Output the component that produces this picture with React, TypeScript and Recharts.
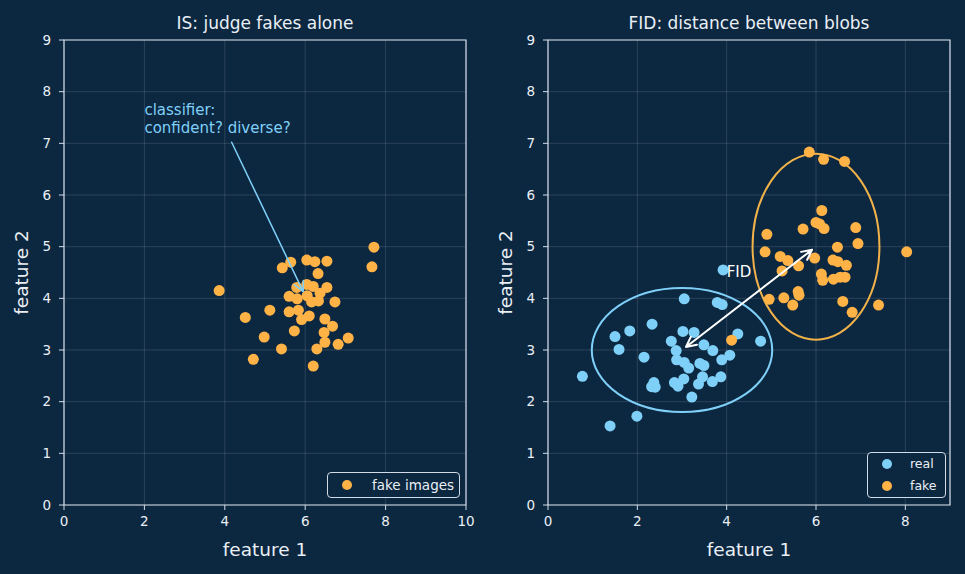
import React from 'react';
import {
  ScatterChart,
  Scatter,
  XAxis,
  YAxis,
  CartesianGrid,
  Legend,
  ReferenceArea,
  ReferenceLine,
  ReferenceDot,
} from 'recharts';

// left panel: generated samples only
const fakeImages: [number, number][] = [
  [7.71, 4.99], [7.66, 4.61], [3.86, 4.15], [5.64, 4.7], [5.43, 4.59], [6.04, 4.74],
  [6.24, 4.71], [6.54, 4.72], [6.32, 4.48], [5.79, 4.21], [6.04, 4.27], [6.2, 4.23],
  [6.54, 4.21], [5.6, 4.04], [5.8, 3.99], [6.05, 4.05], [6.16, 3.93], [6.33, 3.95],
  [6.37, 4.1], [6.74, 3.93], [5.12, 3.77], [4.51, 3.63], [5.6, 3.74], [5.83, 3.77],
  [5.91, 3.59], [6.1, 3.66], [6.49, 3.6], [6.68, 3.46], [6.47, 3.34], [5.73, 3.37],
  [4.98, 3.25], [7.07, 3.23], [6.49, 3.15], [6.82, 3.11], [5.41, 3.02], [6.29, 3.02],
  [4.71, 2.82], [6.2, 2.69],
];

// right panel: real vs fake blobs
const realPts: [number, number][] = [
  [3.05, 3.99], [3.79, 3.92], [3.9, 3.88], [2.33, 3.5], [1.83, 3.37], [1.5, 3.26],
  [1.59, 3.01], [3.02, 3.36], [3.27, 3.34], [2.76, 3.17], [4.25, 3.31], [4.76, 3.17],
  [3.49, 3.1], [3.69, 2.99], [2.87, 2.99], [2.15, 2.86], [2.88, 2.81], [3.05, 2.76],
  [3.15, 2.65], [3.4, 2.74], [3.49, 2.7], [3.89, 2.81], [4.07, 2.9], [3.46, 2.48],
  [3.87, 2.48], [3.68, 2.39], [3.04, 2.44], [2.83, 2.37], [2.91, 2.3], [3.37, 2.34],
  [2.37, 2.37], [2.32, 2.29], [2.4, 2.28], [3.22, 2.09], [1.99, 1.72], [1.39, 1.53],
  [0.77, 2.49], [3.92, 4.55],
];

const fakePts: [number, number][] = [
  [5.85, 6.83], [6.17, 6.69], [6.64, 6.65], [6.13, 5.7], [6.0, 5.47], [6.08, 5.44],
  [6.18, 5.35], [5.71, 5.34], [6.89, 5.37], [4.9, 5.24], [6.94, 5.06], [6.48, 4.99],
  [4.86, 4.9], [8.03, 4.9], [5.2, 4.81], [5.37, 4.73], [5.97, 4.78], [5.61, 4.63],
  [6.38, 4.74], [6.49, 4.71], [6.68, 4.64], [5.24, 4.53], [6.12, 4.47], [6.15, 4.35],
  [6.39, 4.37], [6.54, 4.41], [6.65, 4.41], [4.95, 3.98], [5.28, 4.01], [5.6, 4.13],
  [5.62, 4.06], [5.48, 3.87], [6.6, 3.94], [6.81, 3.73], [7.4, 3.87], [4.11, 3.19],
];

// blob outlines: center + semi axes
const realBlob = { cx: 3, cy: 3, rx: 2.02, ry: 1.2 };
const fakeBlob = { cx: 6, cy: 5, rx: 1.42, ry: 1.8 };

const leftXTicks = [0, 2, 4, 6, 8, 10];
const rightXTicks = [0, 2, 4, 6, 8];
const yTicks = [0, 1, 2, 3, 4, 5, 6, 7, 8, 9];
const legendOrder = ['fake images', 'real', 'fake'];

const BG = '#0c2740';
const ORANGE = '#ffb347';
const BLUE = '#7fd0f8';
const AXIS = '#d3dde8';
const TEXT = '#e9eff5';
const FONT = '"DejaVu Sans", sans-serif';

const toXY = (pts: [number, number][]) => pts.map(([x, y]) => ({ x, y }));

const dot = (color: string) => (p: any) => <circle cx={p.cx} cy={p.cy} r={5.5} fill={color} />;

const ellipseShape = (color: string) => (p: any) => (
  <ellipse
    cx={p.x + p.width / 2}
    cy={p.y + p.height / 2}
    rx={p.width / 2}
    ry={p.height / 2}
    fill="none"
    stroke={color}
    strokeWidth={2}
  />
);

// open chevron arrow(s) drawn between the scaled segment ends
const arrowShape = (color: string, width: number, both: boolean, shrink: number) => (p: any) => {
  const { x1, y1, x2, y2 } = p;
  const dx = x2 - x1;
  const dy = y2 - y1;
  const len = Math.sqrt(dx * dx + dy * dy) || 1;
  const ux = dx / len;
  const uy = dy / len;
  const sx = x1 + ux * (both ? shrink : 0);
  const sy = y1 + uy * (both ? shrink : 0);
  const ex = x2 - ux * shrink;
  const ey = y2 - uy * shrink;
  const hl = 10;
  const hw = 5;
  const head = (tx: number, ty: number, dirx: number, diry: number) => {
    const bx = tx - dirx * hl;
    const by = ty - diry * hl;
    return `M${bx - diry * hw},${by + dirx * hw} L${tx},${ty} L${bx + diry * hw},${by - dirx * hw}`;
  };
  let d = `M${sx},${sy} L${ex},${ey} ` + head(ex, ey, ux, uy);
  if (both) d += ' ' + head(sx, sy, -ux, -uy);
  return <path d={d} fill="none" stroke={color} strokeWidth={width} strokeLinecap="round" strokeLinejoin="round" />;
};

function YLabel({ viewBox, value }: any) {
  const x = viewBox.x + viewBox.width - 36;
  const y = viewBox.y + viewBox.height / 2;
  return (
    <text x={x} y={y} transform={`rotate(-90 ${x} ${y})`} textAnchor="middle" fill={TEXT} fontSize={18.5} fontFamily={FONT}>
      {value}
    </text>
  );
}

function XLabel({ viewBox, value }: any) {
  return (
    <text x={viewBox.x + viewBox.width / 2} y={viewBox.y + 51} textAnchor="middle" fill={TEXT} fontSize={18.5} fontFamily={FONT}>
      {value}
    </text>
  );
}

function LegendBox({ payload, width, textLeft, fontSize, padTop }: any) {
  const items = [...(payload || [])].sort(
    (a: any, b: any) => legendOrder.indexOf(a.value) - legendOrder.indexOf(b.value)
  );
  return (
    <div
      style={{
        width,
        boxSizing: 'border-box',
        border: `1.2px solid ${AXIS}`,
        borderRadius: 4,
        background: BG,
        paddingTop: padTop,
        paddingBottom: padTop,
        fontFamily: FONT,
        fontSize,
        color: TEXT,
      }}
    >
      {items.map((e: any) => (
        <div key={e.value} style={{ position: 'relative', height: 22, lineHeight: '22px' }}>
          <svg width={12} height={12} style={{ position: 'absolute', left: 13, top: 5 }}>
            <circle cx={6} cy={6} r={5} fill={e.color} />
          </svg>
          <span style={{ position: 'absolute', left: textLeft }}>{e.value}</span>
        </div>
      ))}
    </div>
  );
}

const tickStyle = { fill: TEXT, fontSize: 13.5, fontFamily: FONT };

function Title({ left, width, text }: { left: number; width: number; text: string }) {
  return (
    <div
      style={{
        position: 'absolute',
        left,
        width,
        top: 14.6,
        textAlign: 'center',
        fontSize: 17,
        lineHeight: '17px',
        color: TEXT,
        fontFamily: FONT,
      }}
    >
      {text}
    </div>
  );
}

export default function App() {
  return (
    <div style={{ position: 'absolute', left: 0, top: 0, width: 965, height: 574, background: BG, overflow: 'hidden' }}>
      <Title left={64} width={402} text="IS: judge fakes alone" />
      <Title left={548} width={402} text="FID: distance between blobs" />

      {/* left panel */}
      <div style={{ position: 'absolute', left: 0, top: 0 }}>
        <ScatterChart width={482} height={574} margin={{ top: 40, right: 16, bottom: 0, left: 0 }}>
          <CartesianGrid stroke="#ffffff" strokeOpacity={0.17} strokeWidth={0.8} />
          <XAxis
            type="number"
            dataKey="x"
            domain={[0, 10]}
            ticks={leftXTicks}
            height={69}
            tick={tickStyle}
            tickSize={5}
            tickMargin={6}
            axisLine={false}
            tickLine={{ stroke: AXIS }}
            label={<XLabel value="feature 1" />}
          />
          <YAxis
            type="number"
            dataKey="y"
            domain={[0, 9]}
            ticks={yTicks}
            width={64}
            tick={tickStyle}
            tickSize={5}
            tickMargin={8}
            axisLine={false}
            tickLine={{ stroke: AXIS }}
            label={<YLabel value="feature 2" />}
          />
          <ReferenceArea x1={0} x2={10} y1={0} y2={9} fill="none" stroke={AXIS} strokeWidth={1.2} />
          <Scatter name="fake images" data={toXY(fakeImages)} fill={ORANGE} shape={dot(ORANGE)} isAnimationActive={false} />
          <ReferenceLine
            segment={[{ x: 4.17, y: 7.02 }, { x: 5.95, y: 4.13 }]}
            shape={arrowShape(BLUE, 1.5, false, 0)}
            zIndex={800}
          />
          <ReferenceDot
            x={2}
            y={7.2}
            zIndex={800}
            shape={(p: any) => (
              <g fill={BLUE} fontSize={15} fontFamily={FONT}>
                <text x={p.cx} y={p.cy - 18}>classifier:</text>
                <text x={p.cx} y={p.cy}>confident? diverse?</text>
              </g>
            )}
          />
          <Legend
            layout="horizontal"
            verticalAlign="middle"
            align="center"
            wrapperStyle={{ left: 327, top: 472, width: 133 }}
            content={(p: any) => <LegendBox payload={p.payload} width={133} textLeft={44} fontSize={13.5} padTop={1} />}
          />
        </ScatterChart>
      </div>

      {/* right panel */}
      <div style={{ position: 'absolute', left: 482, top: 0 }}>
        <ScatterChart width={483} height={574} margin={{ top: 40, right: 15, bottom: 0, left: 0 }}>
          <CartesianGrid stroke="#ffffff" strokeOpacity={0.17} strokeWidth={0.8} />
          <XAxis
            type="number"
            dataKey="x"
            domain={[0, 9]}
            ticks={rightXTicks}
            height={69}
            tick={tickStyle}
            tickSize={5}
            tickMargin={6}
            axisLine={false}
            tickLine={{ stroke: AXIS }}
            label={<XLabel value="feature 1" />}
          />
          <YAxis
            type="number"
            dataKey="y"
            domain={[0, 9]}
            ticks={yTicks}
            width={66}
            tick={tickStyle}
            tickSize={5}
            tickMargin={8}
            axisLine={false}
            tickLine={{ stroke: AXIS }}
            label={<YLabel value="feature 2" />}
          />
          <ReferenceArea x1={0} x2={9} y1={0} y2={9} fill="none" stroke={AXIS} strokeWidth={1.2} />
          <ReferenceArea
            x1={realBlob.cx - realBlob.rx}
            x2={realBlob.cx + realBlob.rx}
            y1={realBlob.cy - realBlob.ry}
            y2={realBlob.cy + realBlob.ry}
            shape={ellipseShape(BLUE)}
          />
          <ReferenceArea
            x1={fakeBlob.cx - fakeBlob.rx}
            x2={fakeBlob.cx + fakeBlob.rx}
            y1={fakeBlob.cy - fakeBlob.ry}
            y2={fakeBlob.cy + fakeBlob.ry}
            shape={ellipseShape('#f2b24a')}
          />
          <Scatter name="real" data={toXY(realPts)} fill={BLUE} shape={dot(BLUE)} isAnimationActive={false} />
          <Scatter name="fake" data={toXY(fakePts)} fill={ORANGE} shape={dot(ORANGE)} isAnimationActive={false} />
          <ReferenceLine
            segment={[{ x: realBlob.cx, y: realBlob.cy }, { x: fakeBlob.cx, y: fakeBlob.cy }]}
            shape={arrowShape('#ffffff', 2, true, 5)}
            zIndex={800}
          />
          <ReferenceDot
            x={4.0}
            y={4.42}
            zIndex={800}
            shape={(p: any) => (
              <text x={p.cx} y={p.cy} fill="#ffffff" fontSize={15} fontFamily={FONT}>
                FID
              </text>
            )}
          />
          <Legend
            layout="horizontal"
            verticalAlign="middle"
            align="center"
            wrapperStyle={{ left: 385, top: 452, width: 79 }}
            content={(p: any) => <LegendBox payload={p.payload} width={79} textLeft={42} fontSize={12.5} padTop={0} />}
          />
        </ScatterChart>
      </div>
    </div>
  );
}
